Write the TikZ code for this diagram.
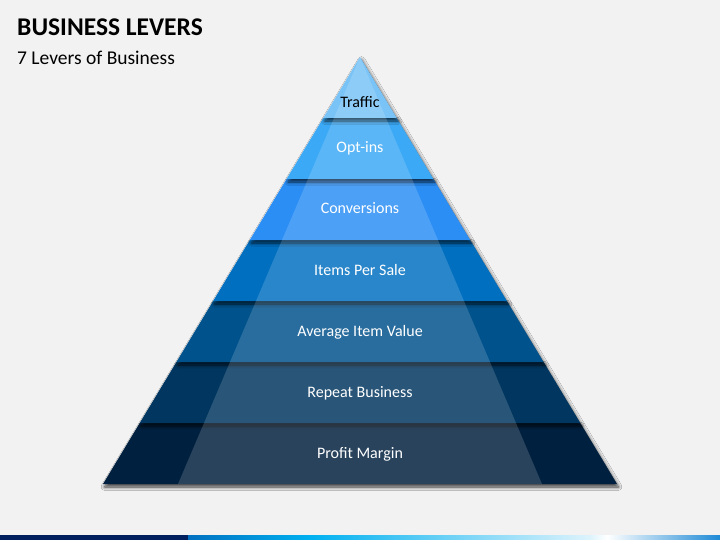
\documentclass[tikz,border=0pt]{standalone}
\usepackage{fontspec}
\setmainfont{Carlito}
\usepackage{tikz}
\usetikzlibrary{calc, shadows.blur}
\definecolor{bgray}{HTML}{F2F2F2}
\definecolor{navy}{HTML}{002060}
\definecolor{lvA}{HTML}{79C3F7}
\definecolor{lvB}{HTML}{3BA9F5}
\definecolor{lvC}{HTML}{2A8EF5}
\definecolor{lvD}{HTML}{006FC0}
\definecolor{lvE}{HTML}{00528C}
\definecolor{lvF}{HTML}{00365F}
\definecolor{lvG}{HTML}{00203F}
\definecolor{barA}{HTML}{0070C0}
\definecolor{barB}{HTML}{00B0F0}
\definecolor{barC}{HTML}{DDF3FC}
\definecolor{barD}{HTML}{1E8AD6}
\tikzstyle{band}  = [blur shadow={shadow xshift=1.5pt, shadow yshift=-3pt, shadow blur radius=3.5pt, shadow blur steps=8, shadow opacity=75}]
\tikzstyle{glare} = [fill=white, fill opacity=0.16]
\tikzstyle{lbl}   = [font=\fontsize{16}{19}\selectfont, anchor=base, inner sep=0pt]
\tikzstyle{title} = [font=\fontsize{25.5}{30}\selectfont\bfseries, anchor=base west, inner sep=0pt]
\tikzstyle{subtitle} = [font=\fontsize{19.5}{23}\selectfont, anchor=base west, inner sep=0pt]

\begin{document}
\begin{tikzpicture}[x=1pt, y=-1pt]
    \fill[bgray] (0,0) rectangle (720,540);
    \useasboundingbox (0,0) rectangle (720,540);

    \node (title) [title] at (17,36) {BUSINESS LEVERS};
    \node (sub)   [subtitle] at (17,65) {7 Levers of Business};

    % levels, bottom first so each one throws its shadow on the next
    \foreach \k/\col in {7/lvG, 6/lvF, 5/lvE, 4/lvD, 3/lvC, 2/lvB, 1/lvA} {
        \pgfmathsetmacro{\ya}{57+61*(\k-1)}
        \pgfmathsetmacro{\yb}{57+61*\k}
        \pgfmathsetmacro{\wa}{(\ya-57)/427*257}
        \pgfmathsetmacro{\wb}{(\yb-57)/427*257}
        \fill[band, fill=\col] (360-\wa,\ya) -- (360+\wa,\ya) -- (360+\wb,\yb) -- (360-\wb,\yb) -- cycle;
    }
    \fill[glare] (360,57) -- (542,484) -- (178,484) -- cycle;

    \foreach \k/\by/\ink/\txt in {7/458/white/Profit Margin,
                                  6/397/white/Repeat Business,
                                  5/336/white/Average Item Value,
                                  4/275/white/Items Per Sale,
                                  3/214/white/Conversions,
                                  2/153/white/Opt-ins,
                                  1/108/black/Traffic}
        \node (lvl\k) [lbl, text=\ink] at (360,\by) {\txt};

    % bar at the foot of the page
    \fill[navy] (0,535) rectangle (188,540);
    \shade[left color=barA, right color=barB] (188,535) rectangle (310,540);
    \shade[left color=barB, right color=barC] (310,535) rectangle (590,540);
    \shade[left color=barC, right color=white] (590,535) rectangle (607,540);
    \shade[left color=white, right color=barD] (607,535) rectangle (720,540);
\end{tikzpicture}
\end{document}
